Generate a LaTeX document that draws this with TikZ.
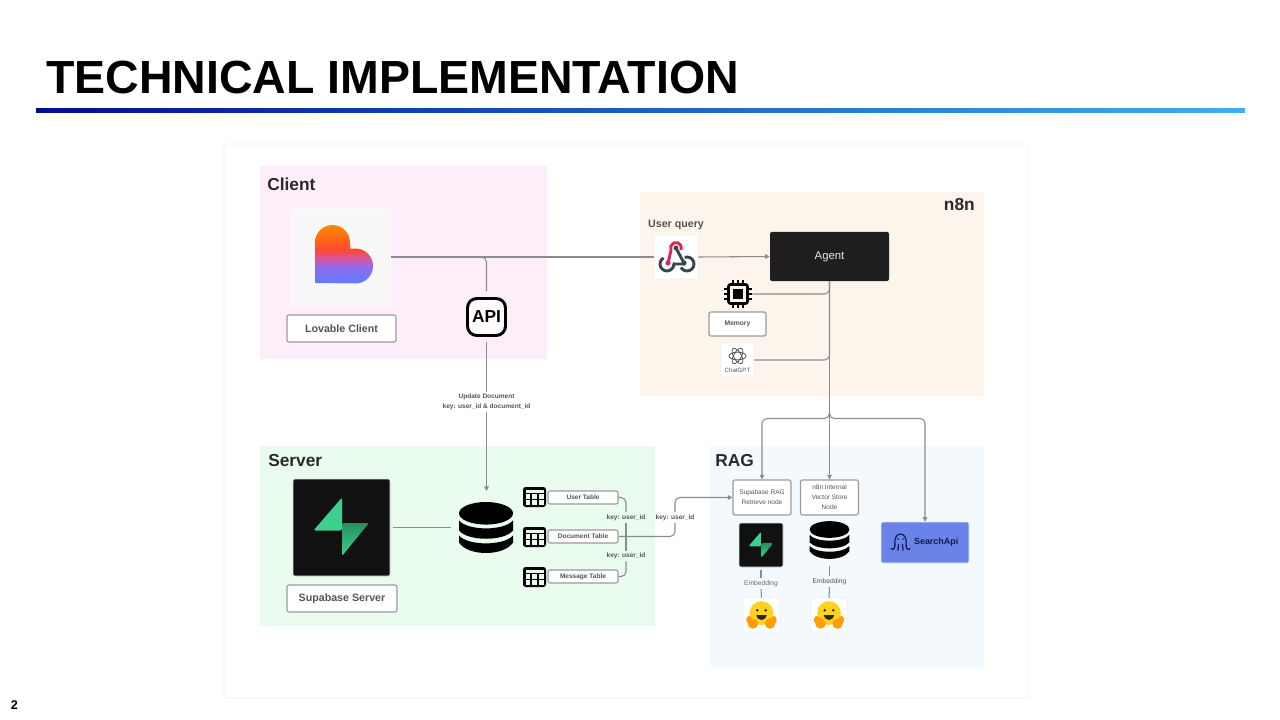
\documentclass[tikz,border=0pt]{standalone}
\usepackage{fontspec}
\usepackage{xcolor}
\setmainfont{Liberation Sans}
\usetikzlibrary{arrows.meta, positioning}

\definecolor{clientbg}{HTML}{FDEEFA}
\definecolor{flowbg}{HTML}{FDF4EC}
\definecolor{serverbg}{HTML}{E9FCEE}
\definecolor{ragbg}{HTML}{F3F9FD}
\definecolor{inkdark}{HTML}{2A2A2A}
\definecolor{inkgray}{HTML}{555555}
\definecolor{wiregray}{HTML}{8C8C8C}
\definecolor{boxgray}{HTML}{9A9A9A}
\definecolor{logoblack}{HTML}{111111}
\definecolor{agentblack}{HTML}{1E1E1E}
\definecolor{supagreen}{HTML}{3ECF8E}
\definecolor{supadark}{HTML}{23905F}
\definecolor{searchblue}{HTML}{6A83E8}
\definecolor{searchink}{HTML}{141A50}
\definecolor{hugyellow}{HTML}{FFD21E}
\definecolor{hugorange}{HTML}{FF9D0B}
\definecolor{hookpink}{HTML}{E0245E}
\definecolor{hookdark}{HTML}{37474F}
\definecolor{lovablea}{HTML}{5F7CFF}
\definecolor{lovableb}{HTML}{8F6CF0}
\definecolor{lovablec}{HTML}{D653A8}
\definecolor{lovabled}{HTML}{FF4A2E}
\definecolor{lovablee}{HTML}{FF8A00}
\definecolor{ruleleft}{HTML}{000C96}
\definecolor{rulemid}{HTML}{1D58C6}
\definecolor{ruleright}{HTML}{3BB0F0}

\pgfdeclareverticalshading{lovableshade}{100bp}{
    color(0bp)=(lovablea); color(25bp)=(lovablea); color(39bp)=(lovableb);
    color(46bp)=(lovablec); color(54bp)=(lovabled); color(75bp)=(lovablee);
    color(100bp)=(lovablee)}

\tikzset{
    panelbox/.style 2 args={
        rectangle,
        inner sep=0pt,
        rounded corners=1.5pt,
        minimum width=#1*0.75pt,
        minimum height=#2*0.75pt
    },
    tilebox/.style 2 args={
        panelbox={#1}{#2},
        draw=white!94!black,
        fill=white
    },
    iconbox/.style 2 args={
        rectangle,
        inner sep=0pt,
        minimum width=#1*0.75pt,
        minimum height=#2*0.75pt
    },
    labelbox/.style 2 args={
        panelbox={#1}{#2},
        draw=boxgray,
        line width=0.8pt,
        fill=white,
        text=inkgray,
        align=center,
        font=\bfseries\fontsize{8}{10}\selectfont
    },
    tablebox/.style={
        labelbox={70}{13},
        font=\bfseries\fontsize{4.9}{6}\selectfont
    },
    ragbox/.style={
        labelbox={58}{35},
        draw=boxgray,
        font=\fontsize{4.9}{7.4}\selectfont
    },
    heading/.style={
        inner sep=0pt,
        text=inkdark,
        font=\bfseries\fontsize{13}{15}\selectfont
    },
    keylabel/.style={
        inner sep=1.5pt,
        text=inkgray,
        align=center,
        font=\bfseries\fontsize{4.9}{7.4}\selectfont
    },
    wire/.style={draw=wiregray, line width=0.8pt, rounded corners=3.75pt},
    flow/.style={wire, -{Triangle[length=3.4pt, width=3.4pt]}},
    lovableheart/.pic={
        \path[shading=lovableshade] (-26.5,26) -- (-26.5,-14.5)
            arc[start angle=180, end angle=360, radius=17.5] -- (8.5,-8.5) -- (14,-8.5)
            arc[start angle=270, end angle=450, radius=17.5] -- cycle;
    },
    supabolt/.pic={
        \path[top color=supadark, bottom color=supagreen, rounded corners=1.5pt]
            (0.5,28.5) -- (27.5,-4.5) -- (0.5,-4.5) -- cycle;
        \fill[supagreen, rounded corners=1.5pt] (0.5,-30) -- (-28,3) -- (0.5,3) -- cycle;
    },
    dbstack/.pic={
        \fill[black] (0,-14.2) ellipse[x radius=27, y radius=11.3];
        \fill[black] (-27,-7) .. controls (-18,3.5) and (18,3.5) .. (27,-7) -- (27,3)
            .. controls (18,14) and (-18,14) .. (-27,3) -- cycle;
        \fill[black] (-27,8) .. controls (-18,18.5) and (18,18.5) .. (27,8) -- (27,15)
            .. controls (18,29) and (-18,29) .. (-27,15) -- cycle;
    },
    tablegrid/.pic={
        \fill[black, rounded corners=2pt] (-11.5,-10) rectangle (11.5,10);
        \fill[serverbg] (-9,-7.4) rectangle (9,-4.4);
        \foreach \cx in {-9,-2.4,4.2} {
            \foreach \cy in {-2.6,3.4} {
                \fill[serverbg] (\cx,\cy) rectangle ++(4.8,4.2);
            }
        }
    },
    chipicon/.pic={
        \draw[black, line width=2pt, rounded corners=1.5pt] (-9.5,-9.5) rectangle (9.5,9.5);
        \fill[black] (-5,-5) rectangle (5,5);
        \foreach \pin in {-5,0,5} {
            \draw[black, line width=1.6pt] (\pin,-14) -- (\pin,-10);
            \draw[black, line width=1.6pt] (\pin,10) -- (\pin,14);
            \draw[black, line width=1.6pt] (-14,\pin) -- (-10,\pin);
            \draw[black, line width=1.6pt] (10,\pin) -- (14,\pin);
        }
    },
    hookicon/.pic={
        \draw[hookdark, line width=2.2pt] (0,-9) -- (8,6);
        \draw[hookdark, line width=2.2pt] (-12.5,0.9)
            arc[start angle=240, end angle=0, radius=7] -- (8,7);
        \draw[hookdark, line width=2.2pt] (8.6,0.4)
            arc[start angle=250, end angle=510, radius=7];
        \fill[hookdark] (0,-9) circle[radius=2.4];
        \fill[hookdark] (8,6) circle[radius=2.6];
        \draw[hookpink, line width=2.2pt] (-8,6) -- (-5,-6.7)
            arc[start angle=155, end angle=380, radius=5.5];
        \fill[hookpink] (-8,6) circle[radius=2.6];
    },
    gptknot/.pic={
        \foreach \turn in {0,60,120} {
            \draw[inkgray, line width=0.6pt, rotate=\turn] (0,0) ellipse[x radius=9, y radius=4];
        }
    },
    hugface/.pic={
        \fill[hugyellow] (0,-2) circle[radius=12.5];
        \fill[inkdark] (-4.5,-5) circle[radius=1.5];
        \fill[inkdark] (4.5,-5) circle[radius=1.5];
        \fill[inkdark] (-5.5,0) .. controls (-4,7) and (4,7) .. (5.5,0) -- cycle;
        \fill[hugorange] (-9,9) ellipse[x radius=5.5, y radius=5.5];
        \fill[hugorange] (9,9) ellipse[x radius=5.5, y radius=5.5];
        \fill[hugorange] (-13,5) ellipse[x radius=3, y radius=4];
        \fill[hugorange] (13,5) ellipse[x radius=3, y radius=4];
    },
    octopus/.pic={
        \draw[searchink, line width=0.9pt, line cap=round]
            (-5.5,3) .. controls (-7.5,-11) and (7.5,-11) .. (5.5,3);
        \fill[searchink] (-2.5,-2.5) circle[radius=0.9];
        \fill[searchink] (2.5,-2.5) circle[radius=0.9];
        \foreach \leg in {-2,2} {
            \draw[searchink, line width=0.9pt, line cap=round]
                (\leg,3) -- (\leg*1.3,9);
        }
        \draw[searchink, line width=0.9pt, line cap=round] (-5.5,3) .. controls (-5.5,8) and (-8,9) .. (-9.5,7);
        \draw[searchink, line width=0.9pt, line cap=round] (5.5,3) .. controls (5.5,8) and (8,9) .. (9.5,7);
    }
}

\begin{document}
\begin{tikzpicture}[x=0.75pt, y=-0.75pt]

    \useasboundingbox (0,0) rectangle (1280,720);
    \fill[white] (0,0) rectangle (1280,720);

    \node[inner sep=0pt, anchor=west, font=\bfseries\fontsize{34.85}{40}\selectfont] (title) at (46,78) {TECHNICAL IMPLEMENTATION};
    \node[iconbox={1209}{4}, left color=ruleleft, middle color=rulemid, right color=ruleright] (titlerule) at (640.5,111) {};
    \node[inner sep=0pt, font=\bfseries\fontsize{9.5}{11}\selectfont] (pagenum) at (14.5,705) {2};

    \node[tilebox={804}{554}] (sheet) at (626,421) {};
    \node[panelbox={287}{193}, fill=clientbg] (client) at (403.5,262.5) {};
    \node[panelbox={344}{204}, fill=flowbg] (nflow) at (812,294) {};
    \node[panelbox={395}{180}, fill=serverbg] (server) at (457.5,536) {};
    \node[panelbox={274}{221}, fill=ragbg] (rag) at (847,556.5) {};

    \node[heading, anchor=west] (clienttitle) at (267,184) {Client};
    \node[heading, anchor=east] (nflowtitle) at (975,205) {n8n};
    \node[heading, anchor=west] (servertitle) at (268,461) {Server};
    \node[heading, anchor=west] (ragtitle) at (715,461) {RAG};

    % client
    \node[panelbox={99}{98}, draw=white, fill=flowbg!60!gray!12] (lovable) at (341.5,257) {};
    \pic at (lovable) {lovableheart};
    \node[labelbox={109}{27}] (lovablelabel) at (341.5,328.5) {Lovable Client};
    \node[panelbox={38}{37}, rounded corners=7pt, draw=black, line width=2.2pt, fill=white!70!clientbg, font=\bfseries\fontsize{13}{15}\selectfont] (api) at (486.5,317) {API};
    \node[keylabel] (updatelabel) at (486.5,402) {Update Document\\key: user\_id \& document\_id};

    % n8n
    \node[inner sep=0pt, text=inkdark!80, font=\bfseries\fontsize{8}{10}\selectfont] (querylabel) at (676,224.5) {User query};
    \node[tilebox={44}{44}] (webhook) at (676,257) {};
    \pic at (webhook) {hookicon};
    \node[panelbox={119}{49}, fill=agentblack, text=white!90!black, font=\fontsize{8.5}{10}\selectfont] (agent) at (829.5,256.5) {Agent};
    \node[iconbox={28}{28}] (chip) at (738,294) {};
    \pic at (chip) {chipicon};
    \node[labelbox={57}{24}, font=\bfseries\fontsize{5}{6}\selectfont] (memory) at (737.5,324) {Memory};
    \node[tilebox={33}{34}] (chatgpt) at (737.5,360) {};
    \pic[scale=0.95] at (737.5,356) {gptknot};
    \node[inner sep=0pt, text=inkgray, font=\fontsize{4.6}{6}\selectfont] (chatgptlabel) at (737.5,370) {ChatGPT};

    % server
    \node[panelbox={97}{97}, draw=white!90!black, fill=logoblack] (supalogo) at (341.5,527.5) {};
    \pic at (supalogo) {supabolt};
    \node[labelbox={110}{27}] (supalabel) at (342,598.5) {Supabase Server};
    \node[iconbox={54}{51}] (serverdb) at (486,527.5) {};
    \pic at (serverdb) {dbstack};

    \node[iconbox={23}{20}] (usergrid) at (534.5,497) {};
    \node[iconbox={23}{20}] (docgrid) at (534.5,537) {};
    \node[iconbox={23}{20}] (msggrid) at (534.5,577) {};
    \pic at (usergrid) {tablegrid};
    \pic at (docgrid) {tablegrid};
    \pic at (msggrid) {tablegrid};
    \node[tablebox] (usertable) at (583,497.5) {User Table};
    \node[tablebox] (doctable) at (583,536.5) {Document Table};
    \node[tablebox] (msgtable) at (583,576.5) {Message Table};
    \node[keylabel] (keyuser) at (626,517.5) {key: user\_id};
    \node[keylabel] (keymsg) at (626,556) {key: user\_id};
    \node[keylabel] (keydoc) at (675,517.5) {key: user\_id};

    % rag
    \node[ragbox] (ragsupa) at (762,497.5) {Supabase RAG\\Retrieve node};
    \node[ragbox] (ragvector) at (829.5,497.5) {n8n Internal\\Vector Store\\Node};
    \node[tilebox={88}{41}, fill=searchblue, draw=white!92!black, text=searchink, font=\bfseries\fontsize{6.7}{8}\selectfont] (searchapi) at (925,542.5) {\hspace{2.5em}SearchApi};
    \pic at (900.5,541.5) {octopus};
    \node[panelbox={44}{44}, draw=white!90!black, fill=logoblack] (ragsupalogo) at (761,545) {};
    \pic[scale=0.45] at (ragsupalogo) {supabolt};
    \node[iconbox={40}{38}] (ragdb) at (829.5,540) {};
    \pic[scale=0.74] at (ragdb) {dbstack};
    \node[keylabel, font=\fontsize{5}{6}\selectfont, text=inkgray!85] (embedleft) at (761,583.5) {Embedding};
    \node[keylabel, font=\fontsize{5}{6}\selectfont] (embedright) at (829.5,581.5) {Embedding};
    \node[tilebox={37}{34}] (hugleft) at (761.5,615) {};
    \node[tilebox={36}{34}] (hugright) at (829,615) {};
    \pic[scale=0.95] at (hugleft) {hugface};
    \pic[scale=0.95] at (hugright) {hugface};

    \coordinate (forktop) at (829.5,412);
    \coordinate (fork) at (829.5,418.5);
    \coordinate (apijoin) at (470,257);

    % connectors
    \draw[wire] (lovable.east) -- (webhook.west);
    \draw[wire] (api.north) ++(0,-6) |- (apijoin);
    \draw[wire] (api.south) ++(0,5) -- (updatelabel.north);
    \draw[flow] (updatelabel.south) -- (486.5,491);
    \draw[flow] (webhook.east) -- (agent.west);
    \draw[wire] (chip.east) -| (agent.south);
    \draw[wire] (chatgpt.east) -| (agent.south);
    \draw[flow] (agent.south) -- (ragvector.north);
    \draw[flow] (forktop) -- (fork) -| (ragsupa.north);
    \draw[flow] (forktop) -- (fork) -| (searchapi.north);
    \draw[wire, shorten <=2pt, shorten >=6pt] (supalogo.east) -- (serverdb.west);
    \draw[wire] (usertable.east) -| (keyuser.north);
    \draw[wire] (msgtable.east) -| (keymsg.south);
    \draw[wire] (keyuser.south) -- (keymsg.north);
    \draw[wire] (doctable.east) -| (keydoc.south);
    \draw[flow] (keydoc.north) |- (ragsupa.west);
    \draw[wire, shorten <=2.2pt] (ragsupalogo.south) -- (embedleft.north);
    \draw[wire] (embedleft.south) -- (hugleft.north);
    \draw[wire, shorten <=5pt] (ragdb.south) -- (embedright.north);
    \draw[wire] (embedright.south) -- (hugright.north);

\end{tikzpicture}
\end{document}
